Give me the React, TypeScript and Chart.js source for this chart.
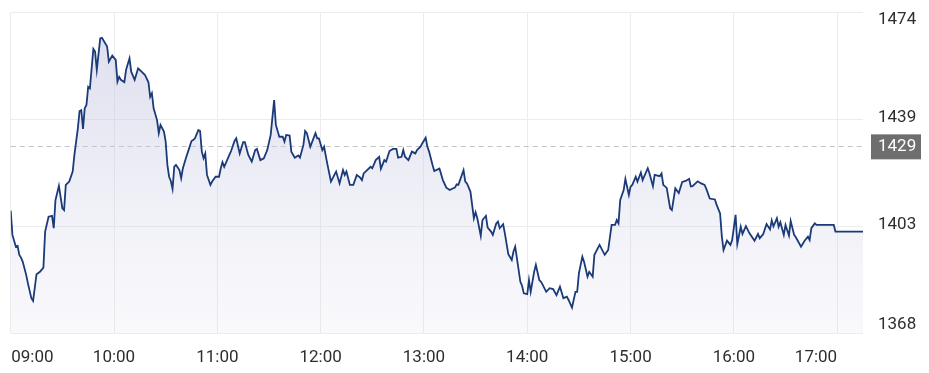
import React, { useEffect, useRef } from 'react';
import { Chart, registerables } from 'chart.js';

Chart.register(...registerables);

// minutes since 09:00
const minutesSinceOpen = [
  0, 1, 3, 4, 5, 6, 7, 9, 10, 12,
  13, 15, 17, 19, 20, 22, 24, 25, 26, 28,
  30, 31, 32, 34, 36, 37, 39, 40, 41, 42,
  43, 44, 45, 46, 48, 49, 50, 52, 53, 56,
  57, 59, 61, 62, 63, 64, 66, 67, 69, 70,
  72, 74, 76, 78, 80, 81, 82, 83, 85, 86,
  87, 89, 90, 91, 92, 93, 94, 95, 96, 98,
  99, 100, 102, 103, 105, 106, 107, 109, 110, 111,
  112, 113, 114, 116, 117, 119, 121, 122, 123, 124,
  127, 128, 130, 131, 133, 135, 136, 138, 140, 142,
  143, 145, 147, 149, 151, 153, 154, 156, 158, 159,
  160, 162, 163, 165, 167, 168, 170, 171, 172, 174,
  177, 178, 179, 181, 182, 184, 186, 188, 189, 191,
  193, 194, 195, 197, 199, 201, 203, 204, 205, 207,
  209, 210, 212, 214, 215, 217, 218, 220, 222, 224,
  225, 227, 228, 229, 231, 233, 235, 236, 238, 239,
  241, 242, 243, 245, 246, 249, 251, 253, 255, 257,
  258, 259, 260, 262, 263, 264, 265, 267, 269, 270,
  271, 273, 274, 276, 277, 279, 280, 282, 283, 284,
  286, 287, 289, 291, 292, 293, 294, 296, 297, 298,
  300, 301, 302, 304, 305, 307, 308, 309, 311, 313,
  315, 317, 319, 321, 323, 324, 326, 328, 329, 330,
  332, 333, 335, 336, 338, 339, 342, 345, 347, 349,
  351, 352, 353, 354, 356, 357, 359, 360, 361, 363,
  364, 366, 367, 370, 371, 373, 374, 377, 378, 379,
  381, 383, 384, 386, 388, 390, 392, 394, 395, 396,
  399, 401, 403, 404, 406, 409, 410, 412, 413, 414,
  416, 418, 419, 421, 422, 424, 425, 427, 429, 432,
  434, 435, 437, 439, 441, 442, 443, 445, 446, 447,
  449, 450, 452, 453, 455, 456, 459, 461, 463, 464,
  465, 467, 468, 478, 479, 495,
];

const prices = [
  1408.5, 1400.5, 1396.6, 1396.9, 1393.9, 1393.0, 1391.6, 1387.3, 1384.5, 1379.6,
  1378.7, 1387.5, 1388.3, 1389.7, 1401.6, 1406.5, 1406.8, 1402.7, 1412.0, 1416.7,
  1409.3, 1408.7, 1417.0, 1418.1, 1421.4, 1426.9, 1435.7, 1441.4, 1441.7, 1435.5,
  1442.3, 1443.4, 1449.4, 1448.9, 1461.9, 1461.0, 1455.0, 1465.4, 1465.6, 1462.7,
  1457.7, 1459.7, 1458.3, 1451.1, 1452.7, 1451.7, 1450.9, 1455.0, 1458.8, 1454.4,
  1451.7, 1455.5, 1454.4, 1453.3, 1450.9, 1446.1, 1447.3, 1442.3, 1438.4, 1434.1,
  1436.8, 1434.6, 1431.3, 1423.6, 1419.7, 1418.3, 1415.7, 1423.0, 1423.6, 1421.9,
  1419.2, 1422.5, 1426.3, 1428.0, 1431.5, 1431.8, 1432.4, 1435.1, 1434.8, 1428.0,
  1425.8, 1427.4, 1420.3, 1417.0, 1418.1, 1419.7, 1419.7, 1422.5, 1424.5, 1423.0,
  1426.9, 1428.2, 1431.5, 1432.4, 1427.4, 1431.1, 1431.1, 1426.9, 1424.7, 1428.5,
  1428.9, 1425.2, 1425.8, 1428.5, 1433.5, 1445.0, 1436.8, 1432.9, 1432.9, 1431.3,
  1433.5, 1433.3, 1428.0, 1426.0, 1426.7, 1426.0, 1430.2, 1434.8, 1434.1, 1429.6,
  1434.1, 1432.4, 1432.4, 1428.5, 1429.6, 1423.6, 1418.1, 1420.3, 1421.4, 1417.5,
  1421.9, 1420.3, 1421.4, 1417.0, 1417.0, 1420.3, 1419.4, 1418.6, 1420.8, 1421.9,
  1423.0, 1422.5, 1425.2, 1426.3, 1422.3, 1425.2, 1424.7, 1428.2, 1428.9, 1428.9,
  1426.0, 1426.3, 1428.5, 1426.3, 1425.2, 1428.0, 1427.4, 1428.5, 1429.6, 1430.7,
  1432.6, 1429.6, 1428.0, 1423.6, 1421.6, 1422.4, 1418.6, 1416.1, 1415.3, 1415.9,
  1416.1, 1417.2, 1417.0, 1420.3, 1421.9, 1418.1, 1417.5, 1414.8, 1406.0, 1408.0,
  1406.0, 1400.2, 1405.4, 1406.8, 1402.9, 1401.6, 1400.5, 1404.3, 1404.9, 1402.7,
  1404.0, 1401.0, 1394.1, 1392.2, 1395.0, 1396.6, 1392.8, 1385.0, 1383.7, 1381.2,
  1380.9, 1385.6, 1381.7, 1388.3, 1390.6, 1385.6, 1385.0, 1384.0, 1381.7, 1382.9,
  1382.6, 1380.6, 1383.4, 1379.6, 1380.1, 1379.0, 1376.5, 1381.7, 1381.7, 1387.8,
  1393.3, 1391.6, 1386.7, 1388.3, 1386.7, 1393.9, 1397.2, 1393.9, 1395.5, 1403.8,
  1403.8, 1405.4, 1404.3, 1412.0, 1415.3, 1419.0, 1413.7, 1416.4, 1417.0, 1419.7,
  1418.1, 1421.1, 1418.6, 1422.5, 1420.8, 1416.6, 1420.3, 1419.9, 1420.8, 1417.0,
  1416.0, 1409.3, 1408.7, 1415.9, 1414.3, 1418.0, 1418.3, 1419.0, 1416.5, 1416.6,
  1418.2, 1417.5, 1417.0, 1415.7, 1412.5, 1412.2, 1410.4, 1407.6, 1400.1, 1395.5,
  1398.6, 1397.2, 1398.8, 1407.1, 1397.5, 1403.2, 1400.8, 1403.4, 1401.1, 1398.6,
  1400.8, 1399.4, 1400.7, 1404.1, 1402.3, 1405.3, 1403.3, 1406.0, 1403.2, 1404.7,
  1400.5, 1403.8, 1400.3, 1405.1, 1400.5, 1399.7, 1396.6, 1398.5, 1399.9, 1398.8,
  1402.7, 1404.3, 1403.8, 1403.8, 1401.6, 1401.6,
];

const sessionEndMinute = 495;
const hourTickMinutes = [0, 60, 120, 180, 240, 300, 360, 420, 480];
const hourTickLabels = ['09:00', '10:00', '11:00', '12:00', '13:00', '14:00', '15:00', '16:00', '17:00'];
const priceMin = 1368;
const priceMax = 1474;
const priceTickValues = [1368, 1403.33, 1438.67, 1474];
const priceTickLabels = ['1368', '1403', '1439', '1474'];
const previousClose = 1429.9;
const previousCloseLabel = '1429';

export default function App() {
  const canvasRef = useRef<HTMLCanvasElement>(null);

  useEffect(() => {
    const canvas = canvasRef.current;
    if (!canvas) return;
    const labelFont = '17px Roboto, "Noto Sans", sans-serif';
    const textColor = '#2e2e2e';

    const overlayPlugin = {
      id: 'overlay',
      beforeDatasetsDraw(chart: any) {
        const { ctx, chartArea, scales } = chart;
        const y = Math.round(scales.y.getPixelForValue(previousClose)) + 0.5;
        ctx.save();
        ctx.strokeStyle = '#c4c4c4';
        ctx.lineWidth = 1;
        ctx.setLineDash([5, 4]);
        ctx.beginPath();
        ctx.moveTo(chartArea.left, y);
        ctx.lineTo(chartArea.right, y);
        ctx.stroke();
        ctx.restore();
      },
      afterDraw(chart: any) {
        const { ctx, chartArea, scales } = chart;
        ctx.save();
        ctx.font = labelFont;
        // y labels
        const lx = chartArea.right + 15;
        ctx.textAlign = 'left';
        ctx.textBaseline = 'middle';
        ctx.fillStyle = textColor;
        priceTickValues.forEach((v, i) => {
          const py = scales.y.getPixelForValue(v);
          let cy = py - 1.5;
          if (i === priceTickValues.length - 1) cy = py + 7;
          if (i === 0) cy = py - 9;
          ctx.fillText(priceTickLabels[i], lx, cy);
        });
        // previous close badge
        const ry = scales.y.getPixelForValue(previousClose);
        ctx.fillStyle = '#6e6e6e';
        ctx.fillRect(chartArea.right + 8, ry - 11.5, 51, 25);
        ctx.fillStyle = '#ffffff';
        ctx.fillText(previousCloseLabel, lx, ry + 1);
        // x labels
        ctx.fillStyle = textColor;
        const ly = chartArea.bottom + 24;
        hourTickMinutes.forEach((m, i) => {
          const px = scales.x.getPixelForValue(m);
          if (i === 0) ctx.textAlign = 'left';
          else if (i === hourTickMinutes.length - 1) ctx.textAlign = 'right';
          else ctx.textAlign = 'center';
          ctx.fillText(hourTickLabels[i], i === 0 ? px + 0.5 : px, ly);
        });
        ctx.restore();
      },
    };

    const chart = new Chart(canvas, {
      type: 'line',
      data: {
        datasets: [
          {
            data: minutesSinceOpen.map((m, i) => ({ x: m, y: prices[i] })),
            borderColor: '#1b3a78',
            borderWidth: 1.8,
            pointRadius: 0,
            tension: 0,
            fill: 'start',
            backgroundColor: (context: any) => {
              const area = context.chart.chartArea;
              if (!area) return 'rgba(220,220,235,0.4)';
              const g = context.chart.ctx.createLinearGradient(0, area.top, 0, area.bottom);
              g.addColorStop(0, 'rgba(188,188,222,0.52)');
              g.addColorStop(1, 'rgba(215,215,235,0.15)');
              return g;
            },
          },
        ],
      },
      options: {
        responsive: false,
        animation: false,
        layout: { padding: { left: 2.7, right: 58, top: 4.3, bottom: 31.7 } },
        plugins: { legend: { display: false }, tooltip: { enabled: false } },
        scales: {
          x: {
            type: 'linear',
            min: 0,
            max: sessionEndMinute,
            afterBuildTicks: (scale: any) => {
              scale.ticks = hourTickMinutes.map((v) => ({ value: v }));
            },
            ticks: { display: false },
            grid: { color: '#ececec', drawTicks: false },
            border: { display: false },
          },
          y: {
            position: 'right',
            min: priceMin,
            max: priceMax,
            afterBuildTicks: (scale: any) => {
              scale.ticks = priceTickValues.map((v) => ({ value: v }));
            },
            ticks: { display: false },
            grid: { color: '#ececec', drawTicks: false },
            border: { display: false },
          },
        },
      },
      plugins: [overlayPlugin],
    } as any);

    return () => chart.destroy();
  }, []);

  return <canvas ref={canvasRef} width={913} height={357} style={{ display: 'block' }} />;
}
